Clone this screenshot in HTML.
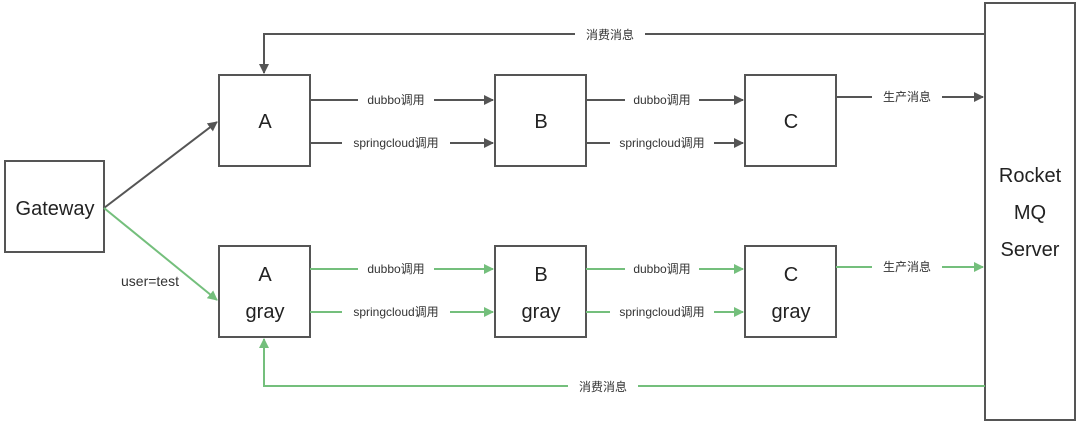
<!DOCTYPE html>
<html><head><meta charset="utf-8"><style>
body{margin:0;background:#fff;}
svg{display:block;font-family:"Liberation Sans","Noto Sans CJK SC",sans-serif;}
</style></head><body>
<svg width="1080" height="424" viewBox="0 0 1080 424">
<defs>
<marker id="d" markerWidth="10" markerHeight="10" refX="9" refY="5" orient="auto" markerUnits="userSpaceOnUse"><path d="M0,0 L10,5 L0,10 z" fill="#555"/></marker>
<marker id="g" markerWidth="10" markerHeight="10" refX="9" refY="5" orient="auto" markerUnits="userSpaceOnUse"><path d="M0,0 L10,5 L0,10 z" fill="#74bf7c"/></marker>
</defs>
<g fill="none" stroke-width="2">
<rect x="5" y="161" width="99" height="91" stroke="#555"/>
<rect x="219" y="75" width="91" height="91" stroke="#555"/>
<rect x="495" y="75" width="91" height="91" stroke="#555"/>
<rect x="745" y="75" width="91" height="91" stroke="#555"/>
<rect x="219" y="246" width="91" height="91" stroke="#555"/>
<rect x="495" y="246" width="91" height="91" stroke="#555"/>
<rect x="745" y="246" width="91" height="91" stroke="#555"/>
<rect x="985" y="3" width="90" height="417" stroke="#555"/>
<g stroke="#555">
<path d="M985,34 H264 V73" marker-end="url(#d)"/>
<path d="M104,208 L217,122" marker-end="url(#d)"/>
<path d="M310,100 H493" marker-end="url(#d)"/>
<path d="M310,143 H493" marker-end="url(#d)"/>
<path d="M586,100 H743" marker-end="url(#d)"/>
<path d="M586,143 H743" marker-end="url(#d)"/>
<path d="M836,97 H983" marker-end="url(#d)"/>
</g>
<g stroke="#74bf7c">
<path d="M985,386 H264 V339" marker-end="url(#g)"/>
<path d="M104,208 L217,300" marker-end="url(#g)"/>
<path d="M310,269 H493" marker-end="url(#g)"/>
<path d="M310,312 H493" marker-end="url(#g)"/>
<path d="M586,269 H743" marker-end="url(#g)"/>
<path d="M586,312 H743" marker-end="url(#g)"/>
<path d="M836,267 H983" marker-end="url(#g)"/>
</g>
</g>
<g font-size="12" fill="#333" text-anchor="middle">
<rect x="575" y="26" width="70" height="16" fill="#fff"/><text x="610" y="39">消费消息</text>
<rect x="568" y="378" width="70" height="16" fill="#fff"/><text x="603" y="391">消费消息</text>
<rect x="358" y="92" width="76" height="16" fill="#fff"/><text x="396" y="104">dubbo调用</text>
<rect x="342" y="135" width="108" height="16" fill="#fff"/><text x="396" y="147">springcloud调用</text>
<rect x="625" y="92" width="74" height="16" fill="#fff"/><text x="662" y="104">dubbo调用</text>
<rect x="610" y="135" width="104" height="16" fill="#fff"/><text x="662" y="147">springcloud调用</text>
<rect x="872" y="89" width="70" height="16" fill="#fff"/><text x="907" y="101">生产消息</text>
<rect x="358" y="261" width="76" height="16" fill="#fff"/><text x="396" y="273">dubbo调用</text>
<rect x="342" y="304" width="108" height="16" fill="#fff"/><text x="396" y="316">springcloud调用</text>
<rect x="625" y="261" width="74" height="16" fill="#fff"/><text x="662" y="273">dubbo调用</text>
<rect x="610" y="304" width="104" height="16" fill="#fff"/><text x="662" y="316">springcloud调用</text>
<rect x="872" y="259" width="70" height="16" fill="#fff"/><text x="907" y="271">生产消息</text>
<text x="150" y="286" font-size="14">user=test</text>
</g>
<g font-size="20" fill="#222" text-anchor="middle">
<text x="55" y="215">Gateway</text>
<text x="265" y="128">A</text>
<text x="541" y="128">B</text>
<text x="791" y="128">C</text>
<text x="265" y="281">A</text><text x="265" y="318">gray</text>
<text x="541" y="281">B</text><text x="541" y="318">gray</text>
<text x="791" y="281">C</text><text x="791" y="318">gray</text>
<text x="1030" y="182">Rocket</text>
<text x="1030" y="219">MQ</text>
<text x="1030" y="256">Server</text>
</g>
</svg>
</body></html>
